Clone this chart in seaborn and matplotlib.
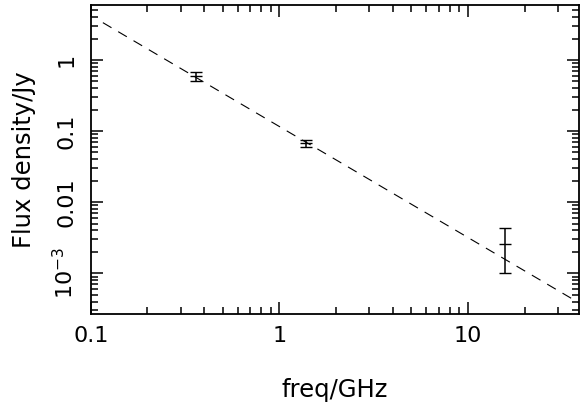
import numpy as np
import pandas as pd
import matplotlib
matplotlib.use("Agg")
import matplotlib.pyplot as plt
import seaborn as sns
from matplotlib.ticker import FixedLocator, FixedFormatter, LogLocator, NullFormatter

# Measured data points (GHz, Jy)
freq_ghz = [0.361, 1.38, 15.8]
flux_jy = [0.596, 0.0673, 2.58e-3]
flux_lo = [0.502, 0.0598, 1.02e-3]
flux_hi = [0.671, 0.0760, 4.30e-3]

# Power-law fit line, endpoints
fit_freq = [0.116, 39.0]
fit_flux = [3.35, 3.8e-4]

x_ticks = [0.1, 1, 10]
x_ticklabels = ["0.1", "1", "10"]
y_ticks = [1e-3, 0.01, 0.1, 1]
y_ticklabels = [r"$10^{-3}$", "0.01", "0.1", "1"]

sns.set_theme(style="ticks")
plt.rcParams["font.family"] = ["DejaVu Sans"]
plt.rcParams["mathtext.fontset"] = "dejavusans"

fig = plt.figure(figsize=(5.86, 4.07), dpi=100)
ax = fig.add_axes([0.1548, 0.2278, 0.8341, 0.760])

fit_df = pd.DataFrame({"freq": fit_freq, "flux": fit_flux})
sns.lineplot(data=fit_df, x="freq", y="flux", ax=ax, color="black",
             linewidth=0.8, linestyle=(0, (9, 7)), legend=False)

yerr = np.array([np.array(flux_jy) - np.array(flux_lo),
                 np.array(flux_hi) - np.array(flux_jy)])
ax.errorbar(freq_ghz, flux_jy, yerr=yerr, fmt="_", color="black",
            markersize=9.0, markeredgewidth=1.0, elinewidth=1.1,
            capsize=4.6, capthick=1.1)

ax.set_xscale("log")
ax.set_yscale("log")
ax.set_xlim(0.1, 39.0)
ax.set_ylim(2.65e-4, 5.94)

ax.xaxis.set_major_locator(FixedLocator(x_ticks))
ax.xaxis.set_major_formatter(FixedFormatter(x_ticklabels))
ax.xaxis.set_minor_locator(LogLocator(base=10, subs=np.arange(2, 10)))
ax.xaxis.set_minor_formatter(NullFormatter())
ax.yaxis.set_major_locator(FixedLocator(y_ticks))
ax.yaxis.set_major_formatter(FixedFormatter(y_ticklabels))
ax.yaxis.set_minor_locator(LogLocator(base=10, subs=np.arange(2, 10)))
ax.yaxis.set_minor_formatter(NullFormatter())

ax.tick_params(which="both", direction="in", top=True, right=True,
               color="black", width=1.1, labelsize=16, labelcolor="black")
ax.tick_params(which="major", length=8.8)
ax.tick_params(which="minor", length=4.8)
ax.tick_params(axis="x", which="major", pad=8.5)
ax.tick_params(axis="y", which="major", pad=10)
for lab in ax.get_yticklabels():
    lab.set_rotation(90)
    lab.set_va("center")

for sp in ax.spines.values():
    sp.set_linewidth(1.3)
    sp.set_color("black")

ax.set_xlabel("freq/GHz", fontsize=17.5, color="black")
ax.set_ylabel("Flux density/Jy", fontsize=17.5, color="black")
ax.xaxis.set_label_coords(0.5, -0.205)
ax.yaxis.set_label_coords(-0.112, 0.5)

fig.savefig("out.png", dpi=100, facecolor="white")
